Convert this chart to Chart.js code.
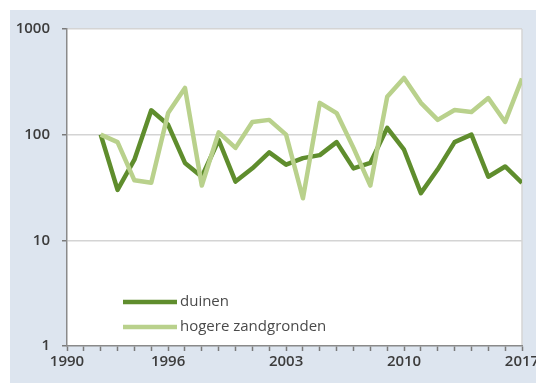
<!DOCTYPE html>
<html>
<head>
<meta charset="utf-8">
<script src="https://cdn.jsdelivr.net/npm/chart.js@4"></script>
<style>
html,body{margin:0;padding:0;background:#fff;}
#wrap{width:536px;height:383px;}
</style>
</head>
<body>
<div id="wrap"><canvas id="c" width="536" height="383"></canvas></div>
<script>
const years = [1992,1993,1994,1995,1996,1997,1998,1999,2000,2001,2002,2003,2004,2005,2006,2007,2008,2009,2010,2011,2012,2013,2014,2015,2016,2017];
const duinen = [100,30,58,170,124,54,40,89,36,48,68,52,60,64,85,48,54,116,72,28,47,85,100,40,50,35];
const hogereZandgronden = [100,85,37,35,160,277,33,105,75,132,138,100,25,200,160,75,33,228,344,200,138,171,164,222,132,340];
const xTickLabels = [1990,1996,2003,2010,2017];
const yTickValues = [1,10,100,1000];
const seriesLabels = ['duinen','hogere zandgronden'];
const seriesColors = ['#5f8d2d','#b9d18c'];

const FONT = "'Open Sans', 'Liberation Sans', sans-serif";

const bgPlugin = {
  id:'bg',
  beforeDraw(chart){
    const {ctx, chartArea:a} = chart;
    ctx.save();
    ctx.fillStyle = '#ffffff';
    ctx.fillRect(0,0,chart.width,chart.height);
    ctx.fillStyle = '#dde5ef';
    ctx.fillRect(10,10,chart.width-10,chart.height-10);
    ctx.fillStyle = '#ffffff';
    ctx.fillRect(a.left,a.top,a.right-a.left,a.bottom-a.top);
    ctx.strokeStyle = '#d4d4d4';
    ctx.lineWidth = 1.5;
    ctx.beginPath();
    ctx.moveTo(a.right,a.top);
    ctx.lineTo(a.right,a.bottom);
    ctx.stroke();
    ctx.restore();
  }
};

const legendPlugin = {
  id:'inlegend',
  afterDatasetsDraw(chart){
    const {ctx, chartArea:a} = chart;
    ctx.save();
    const x0 = a.left + 56, x1 = a.left + 110;
    const ys = [302, 327];
    seriesLabels.forEach((lab,i)=>{
      ctx.strokeStyle = seriesColors[i];
      ctx.lineWidth = 4.5;
      ctx.beginPath();
      ctx.moveTo(x0, ys[i]);
      ctx.lineTo(x1, ys[i]);
      ctx.stroke();
      ctx.fillStyle = '#4a4a4a';
      ctx.font = "15px " + FONT;
      ctx.textBaseline = 'middle';
      ctx.fillText(lab, x1 + 3, ys[i]);
    });
    ctx.restore();
  }
};

new Chart(document.getElementById('c'), {
  type:'line',
  data:{
    datasets:[
      {label:seriesLabels[0], data:years.map((y,i)=>({x:y,y:duinen[i]})), borderColor:seriesColors[0], borderWidth:4.5, pointRadius:0, tension:0, order:1, borderJoinStyle:'round'},
      {label:seriesLabels[1], data:years.map((y,i)=>({x:y,y:hogereZandgronden[i]})), borderColor:seriesColors[1], borderWidth:4.5, pointRadius:0, tension:0, order:0, borderJoinStyle:'round'}
    ]
  },
  options:{
    responsive:false,
    animation:false,
    layout:{padding:{left:0,top:29,right:14,bottom:0}},
    plugins:{legend:{display:false}, tooltip:{enabled:false}},
    scales:{
      x:{
        type:'linear', min:1990, max:2017,
        afterBuildTicks(s){ const t=[]; for(let v=1990; v<=2017; v++) t.push({value:v}); s.ticks=t; },
        ticks:{
          autoSkip:false, maxRotation:0, minRotation:0, padding:2,
          color:'#3c3c3c', font:{family:FONT, size:15, weight:'600'},
          callback:(v)=> xTickLabels.includes(v) ? String(v) : ''
        },
        grid:{drawOnChartArea:false, drawTicks:true, tickLength:5, tickColor:'#7a7a7a', tickWidth:1.5},
        border:{color:'#8a8a8a', width:1.5},
        afterFit(s){ s.height = 37; s.paddingLeft = 0; s.paddingRight = 0; }
      },
      y:{
        type:'logarithmic', min:1, max:1000,
        afterBuildTicks(s){ s.ticks = yTickValues.map(v=>({value:v})); },
        ticks:{
          padding:12, color:'#3c3c3c', font:{family:FONT, size:15, weight:'600'},
          callback:(v)=> String(v)
        },
        grid:{
          drawTicks:true, tickLength:5, tickColor:'#7a7a7a', tickWidth:1.5,
          color:(c)=> c.tick && c.tick.value===1 ? 'rgba(0,0,0,0)' : '#d4d4d4',
          lineWidth:1.5
        },
        border:{color:'#8a8a8a', width:1.5},
        afterFit(s){ s.width = 67; s.paddingTop = 0; s.paddingBottom = 0; }
      }
    }
  },
  plugins:[bgPlugin, legendPlugin]
});
</script>
</body>
</html>
